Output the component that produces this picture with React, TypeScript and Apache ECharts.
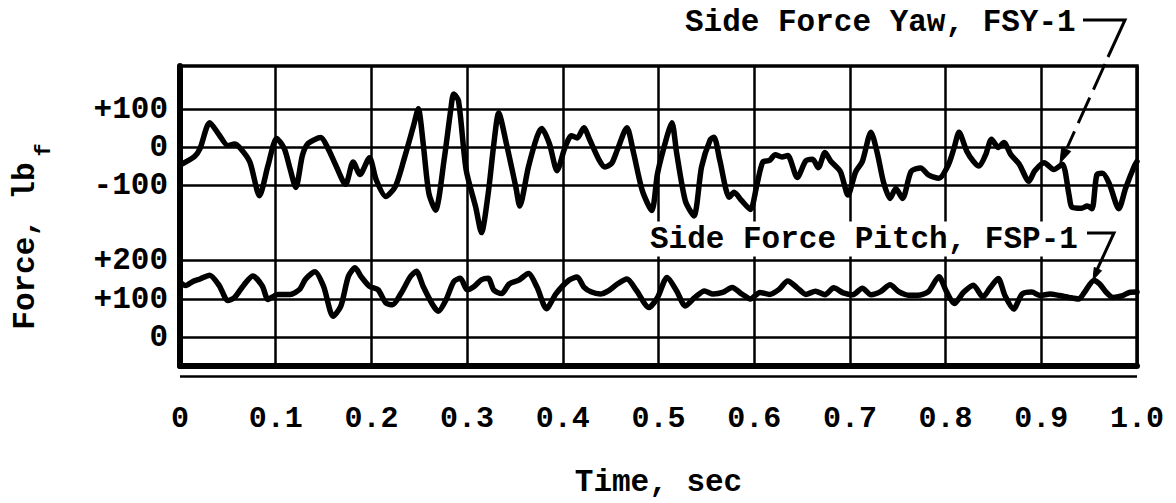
import React, { useEffect, useRef } from 'react';
import * as echarts from 'echarts';

// ---- data ----
const yawTime = [
  0.000, 0.015, 0.021, 0.031, 0.041, 0.050, 0.057, 0.063, 0.073, 0.083,
  0.092, 0.101, 0.109, 0.115, 0.121, 0.128, 0.134, 0.147, 0.154, 0.163,
  0.173, 0.181, 0.188, 0.198, 0.205, 0.215, 0.225, 0.234, 0.244, 0.249,
  0.254, 0.260, 0.267, 0.276, 0.283, 0.286, 0.291, 0.299, 0.309, 0.315,
  0.322, 0.328, 0.333, 0.341, 0.351, 0.355, 0.364, 0.373, 0.378, 0.386,
  0.394, 0.402, 0.409, 0.415, 0.422, 0.428, 0.438, 0.444, 0.451, 0.457,
  0.467, 0.474, 0.483, 0.493, 0.499, 0.509, 0.514, 0.519, 0.528, 0.537,
  0.545, 0.554, 0.558, 0.564, 0.574, 0.579, 0.587, 0.596, 0.603, 0.609,
  0.616, 0.622, 0.629, 0.635, 0.645, 0.654, 0.661, 0.667, 0.674, 0.680,
  0.690, 0.698, 0.706, 0.713, 0.722, 0.729, 0.735, 0.742, 0.748, 0.755,
  0.764, 0.774, 0.782, 0.793, 0.803, 0.809, 0.814, 0.822, 0.829, 0.835,
  0.842, 0.848, 0.855, 0.861, 0.868, 0.877, 0.887, 0.893, 0.903, 0.913,
  0.922, 0.929, 0.932, 0.942, 0.948, 0.953, 0.958, 0.964, 0.971, 0.981,
  0.988, 0.997, 1.000,
];
const yawForce = [
  -46, -24, -2, 65, 33, 5, 9, -2, -38, -127,
  -47, 24, -3, -56, -105, -20, 11, 26, 1, -48,
  -97, -38, -71, -27, -85, -129, -103, -32, 57, 102,
  13, -120, -165, -32, 101, 141, 123, -59, -157, -224,
  -122, 11, 91, 11, -105, -154, -52, 28, 50, 10,
  -61, -2, 31, 25, 52, 21, -33, -51, -42, -6,
  52, -15, -113, -166, -68, 30, 65, -15, -140, -180,
  -51, 20, 27, -33, -131, -118, -140, -163, -96, -38,
  -34, -19, -25, -21, -79, -35, -31, -53, -13, -36,
  -63, -125, -64, -37, 40, -19, -90, -134, -108, -134,
  -63, -54, -72, -81, -45, 0, 40, -9, -36, -49,
  -18, 22, 0, 13, -18, -44, -89, -62, -40, -58,
  -44, -125, -157, -160, -154, -161, -72, -68, -95, -161,
  -108, -50, -37,
];
const pitchTime = [
  0.000, 0.006, 0.013, 0.021, 0.031, 0.041, 0.050, 0.057, 0.066, 0.076,
  0.086, 0.092, 0.102, 0.115, 0.125, 0.131, 0.141, 0.150, 0.160, 0.168,
  0.176, 0.183, 0.189, 0.198, 0.207, 0.215, 0.222, 0.231, 0.241, 0.247,
  0.254, 0.264, 0.270, 0.278, 0.286, 0.293, 0.300, 0.307, 0.315, 0.322,
  0.328, 0.336, 0.344, 0.354, 0.364, 0.373, 0.383, 0.393, 0.406, 0.415,
  0.422, 0.430, 0.439, 0.448, 0.457, 0.467, 0.477, 0.490, 0.499, 0.509,
  0.519, 0.528, 0.538, 0.548, 0.557, 0.567, 0.577, 0.587, 0.596, 0.606,
  0.616, 0.626, 0.635, 0.645, 0.654, 0.664, 0.674, 0.683, 0.693, 0.703,
  0.713, 0.722, 0.732, 0.742, 0.751, 0.761, 0.771, 0.782, 0.793, 0.801,
  0.809, 0.819, 0.829, 0.839, 0.846, 0.855, 0.862, 0.871, 0.880, 0.890,
  0.899, 0.909, 0.919, 0.929, 0.939, 0.945, 0.955, 0.961, 0.968, 0.975,
  0.984, 0.992, 1.000,
];
const pitchForce = [
  143, 135, 145, 152, 162, 135, 96, 104, 134, 160,
  134, 99, 112, 112, 125, 151, 171, 133, 55, 81,
  159, 181, 159, 133, 124, 90, 85, 115, 159, 172,
  133, 85, 68, 98, 145, 154, 124, 132, 150, 154,
  123, 114, 139, 149, 166, 131, 75, 114, 148, 157,
  131, 118, 113, 122, 139, 152, 122, 78, 104, 156,
  121, 82, 104, 121, 113, 117, 130, 113, 100, 117,
  112, 125, 147, 129, 112, 120, 111, 129, 116, 111,
  128, 111, 119, 137, 119, 110, 110, 119, 158, 119,
  88, 118, 136, 105, 127, 153, 109, 74, 113, 118,
  109, 113, 109, 104, 100, 117, 148, 139, 117, 104,
  108, 117, 118,
];

const xTickValues = [0, 0.1, 0.2, 0.3, 0.4, 0.5, 0.6, 0.7, 0.8, 0.9, 1.0];
const xTickLabels = ['0', '0.1', '0.2', '0.3', '0.4', '0.5', '0.6', '0.7', '0.8', '0.9', '1.0'];
const yawTickValues = [-100, 0, 100];
const yawTickLabels = ['-100', '0', '+100'];
const pitchTickValues = [0, 100, 200];
const pitchTickLabels = ['0', '+100', '+200'];

const xTitle = 'Time, sec';
const yTitle = 'Force, lb';
const yTitleSub = 'f';
const yawName = 'Side Force Yaw, FSY-1';
const pitchName = 'Side Force Pitch, FSP-1';

const FONT = '"Liberation Mono", "DejaVu Sans Mono", monospace';
const INK = '#000';

const pickLabel = (values: number[], labels: string[]) => (v: number) => {
  const i = values.findIndex((x) => Math.abs(x - v) < 1e-6);
  return i >= 0 ? labels[i] : '';
};

const labelStyle = (size: number) => ({
  fontFamily: FONT,
  fontWeight: 'bold' as const,
  fontSize: size,
  color: INK,
});

export default function App() {
  const ref = useRef<HTMLDivElement>(null);

  useEffect(() => {
    if (!ref.current) return;
    const chart = echarts.init(ref.current, undefined, { renderer: 'svg' });

    const L = 180;
    const R = 39;

    const arrow = (tx: number, ty: number, fx: number, fy: number, len: number, half: number) => {
      const dx = tx - fx;
      const dy = ty - fy;
      const n = Math.hypot(dx, dy);
      const ux = dx / n;
      const uy = dy / n;
      const bx = tx - ux * len;
      const by = ty - uy * len;
      return [
        [tx, ty],
        [bx - uy * half, by + ux * half],
        [bx + uy * half, by - ux * half],
      ];
    };

    chart.setOption({
      animation: false,
      backgroundColor: '#fff',
      grid: [
        { left: L, right: R, top: 66, bottom: 127, show: true, borderColor: INK, borderWidth: 3.5, backgroundColor: 'transparent' },
        { left: L, right: R, top: 109.5, height: 76 },
        { left: L, right: R, top: 260.5, height: 115.5 },
      ],
      xAxis: [
        {
          gridIndex: 0,
          type: 'value',
          min: 0,
          max: 1,
          interval: 0.1,
          axisLine: { show: true, lineStyle: { color: INK, width: 6 } },
          axisTick: { show: false },
          splitLine: { show: true, lineStyle: { color: INK, width: 2.5 } },
          axisLabel: {
            ...labelStyle(30),
            margin: 38,
            showMinLabel: true,
            showMaxLabel: true,
            formatter: pickLabel(xTickValues, xTickLabels),
          },
          name: xTitle,
          nameLocation: 'middle',
          nameGap: 101,
          nameTextStyle: { ...labelStyle(31), verticalAlign: 'top' },
        },
        { gridIndex: 1, type: 'value', min: 0, max: 1, show: false },
        { gridIndex: 2, type: 'value', min: 0, max: 1, show: false },
      ],
      yAxis: [
        {
          gridIndex: 0,
          type: 'value',
          min: 0,
          max: 1,
          axisLine: { show: true, lineStyle: { color: INK, width: 6 } },
          axisTick: { show: false },
          axisLabel: { show: false },
          splitLine: { show: false },
        },
        {
          gridIndex: 1,
          type: 'value',
          min: -100,
          max: 100,
          interval: 100,
          axisLine: { show: false },
          axisTick: { show: false },
          splitLine: { show: true, lineStyle: { color: INK, width: 2.5 } },
          axisLabel: { ...labelStyle(31), margin: 12, formatter: pickLabel(yawTickValues, yawTickLabels) },
        },
        {
          gridIndex: 2,
          type: 'value',
          min: -100,
          max: 200,
          interval: 100,
          axisLine: { show: false },
          axisTick: { show: false },
          splitLine: { show: true, lineStyle: { color: INK, width: 2.5 } },
          axisLabel: { ...labelStyle(31), margin: 12, formatter: pickLabel(pitchTickValues, pitchTickLabels) },
        },
      ],
      series: [
        {
          name: yawName,
          type: 'line',
          xAxisIndex: 1,
          yAxisIndex: 1,
          data: yawTime.map((t, i) => [t, yawForce[i]]),
          showSymbol: false,
          smooth: 0.25,
          clip: false,
          lineStyle: { color: INK, width: 5.5, join: 'round', cap: 'round' },
          z: 3,
        },
        {
          name: pitchName,
          type: 'line',
          xAxisIndex: 2,
          yAxisIndex: 2,
          data: pitchTime.map((t, i) => [t, pitchForce[i]]),
          showSymbol: false,
          smooth: 0.25,
          clip: false,
          lineStyle: { color: INK, width: 5.5, join: 'round', cap: 'round' },
          z: 3,
        },
      ],
      graphic: [
        {
          type: 'text',
          x: 685,
          y: 22,
          z: 100,
          style: { text: yawName, fontFamily: FONT, fontWeight: 'bold', fontSize: 31, fill: INK, align: 'left', verticalAlign: 'middle' },
        },
        {
          type: 'polyline',
          z: 100,
          shape: { points: [[1083, 20], [1125, 20], [1108, 57]] },
          style: { stroke: INK, lineWidth: 3, fill: 'none' },
        },
        {
          type: 'line',
          z: 100,
          shape: { x1: 1105, y1: 64, x2: 1067, y2: 148 },
          style: { stroke: INK, lineWidth: 3, lineDash: [28, 9] },
        },
        {
          type: 'polygon',
          z: 100,
          shape: { points: arrow(1060, 163, 1125, 20, 15, 5) },
          style: { fill: INK, stroke: INK, lineWidth: 1 },
        },
        {
          type: 'text',
          x: 644,
          y: 239,
          z: 90,
          style: {
            text: pitchName,
            fontFamily: FONT,
            fontWeight: 'bold',
            fontSize: 31,
            fill: INK,
            align: 'left',
            verticalAlign: 'middle',
            backgroundColor: '#fff',
            padding: [2, 6, 2, 6],
          },
        },
        {
          type: 'polyline',
          z: 100,
          shape: { points: [[1087, 233], [1114, 233], [1096, 272]] },
          style: { stroke: INK, lineWidth: 3, fill: 'none' },
        },
        {
          type: 'polygon',
          z: 100,
          shape: { points: arrow(1093, 280, 1114, 233, 12, 4) },
          style: { fill: INK, stroke: INK, lineWidth: 1 },
        },
        {
          type: 'text',
          x: 25,
          y: 246,
          rotation: Math.PI / 2,
          z: 100,
          style: { text: yTitle, fontFamily: FONT, fontWeight: 'bold', fontSize: 31, fill: INK, align: 'center', verticalAlign: 'middle' },
        },
        {
          type: 'text',
          x: 44,
          y: 150,
          rotation: Math.PI / 2,
          z: 100,
          style: { text: yTitleSub, fontFamily: FONT, fontWeight: 'bold', fontSize: 22, fill: INK, align: 'center', verticalAlign: 'middle' },
        },
      ],
    });

    return () => chart.dispose();
  }, []);

  return (
    <div
      ref={ref}
      style={{ position: 'fixed', left: 0, top: 0, width: 1176, height: 503, background: '#fff' }}
    />
  );
}
